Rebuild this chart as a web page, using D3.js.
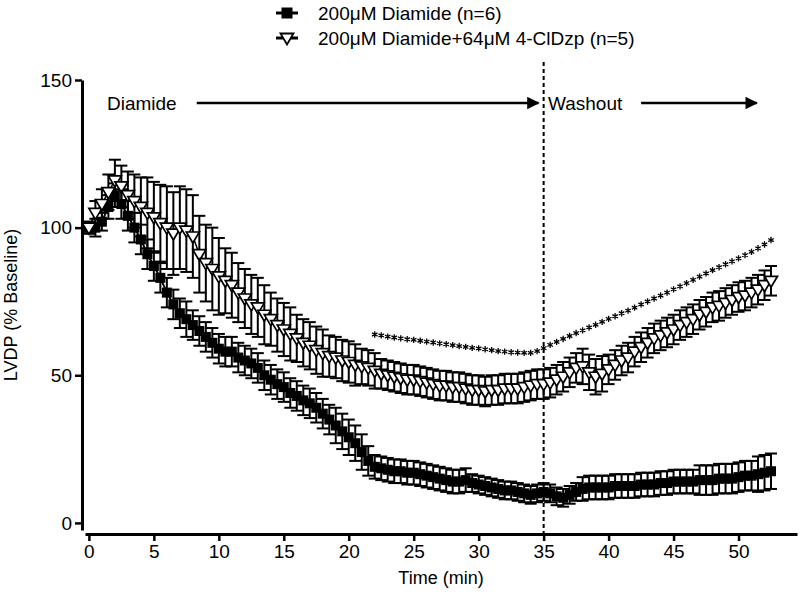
<!DOCTYPE html>
<html>
<head>
<meta charset="utf-8">
<script src="https://cdn.jsdelivr.net/npm/d3@7"></script>
<style>
  html, body { margin: 0; padding: 0; background: #fff; }
  svg { display: block; }
  text { font-family: "Liberation Sans", Arial, sans-serif; fill: #000; }
</style>
</head>
<body>
<svg id="chart" width="800" height="595"></svg>
<script>
// ---------------- data ----------------
const timeStart = 0, timeStep = 0.5;   // sampling every 0.5 min, 0 .. 52.5
const diamideMean = [
  100,100,102,107,111,108,104,100,96,91,
  87,83,78,74,71,69,67,65,63,61,
  59,58,58,56,55,54,52.5,50,48.5,47,
  46,44,43,41.5,40.5,39,37,35,33,31,
  29,27,24,21,19,18.5,18,17.5,17.5,17,
  17,16.5,16,15.5,15,14.5,14,14,14.5,13.5,
  13,12.5,12,11.5,11,11,10.5,10,9.5,10,
  10.5,10,9,8.5,9.5,10.5,11.5,12,12,12,
  12,12.5,12.5,12.5,12.5,13,13,13,13.5,13.5,
  14,14,14,14,14.5,14.5,14.5,15,15,15,
  15.5,16,16,16.5,17,17.5
];
const diamideSem = [
  2,3,3,4,4,5,5,5,5,5,
  5,5,5,5,5,6,5,5,5,5,
  5,5,5,5,5,5,5,5,5,5,
  5,5,5,5,5,5,5,5,6,6,
  6,6,6,5,4,4,4,4,4,4,
  4,4,4,4,4,4,4,4,4,3,
  3,3,3,3,3,3,3,3,3,3,
  3,3,3,3,3,3,4,4,4,4,
  4,4,4,4,4,4,4,4,4,4,
  4,4,4,4,5,5,5,5,5,5,
  5,5,5,6,6,6
];
const clDzpMean = [
  100,105,108,112,116,114,111,109,107,105,
  103.5,101.5,100,98,100,99,97,91,88,86,
  83.5,82,80.5,78,76,74,73,70.5,69,67,
  65.5,64,62.5,61,60,58.5,57.5,56.5,56,55,
  54.5,53.5,53,52.5,51.5,50.5,50,49.5,49,48.5,
  48.5,48,47.5,47,46.5,46.5,46,46,45.5,45,
  45,44.5,45,45,45.5,45.5,45.5,46,46.5,47,
  47,47.5,48.5,49.5,51,52.5,53,51,49.5,50.5,
  52,53.5,55,56,58,59.5,61,62.5,63.5,64.5,
  65.5,67,68,69,70.5,71.5,73,73.5,74.5,75.5,
  76.5,77,78,79,80.5,82
];
const clDzpSem = [
  2,4,5,6,7,7,8,9,10,12,
  12,13,14,14,14,14,14,13,13,14,
  13,11,11,10,10,10,10,10,9,9,
  9,9,8,8,8,8,8,7,7,7,
  7,7,6,6,6,5,5,5,5,5,
  5,5,5,5,5,5,5,5,5,5,
  5,5,5,5,5,5,5,5,5,5,
  5,5,5,5,5,5,6,6,6,6,
  5,5,5,5,5,5,5,5,5,5,
  5,5,5,5,5,5,5,5,5,5,
  5,5,5,5,5,5
];
const starStart = 22;   // significance markers every 0.5 min from 22 to 52.5
const starLevel = [
  63.8,63.5,63.1,62.8,62.5,62.2,62,61.7,61.4,61.1,
  60.8,60.5,60.2,59.9,59.6,59.3,59.1,58.8,58.5,58.2,
  58,57.8,57.7,57.6,57.6,58.2,59.2,60.3,61.3,62.3,
  63.3,64.3,65.2,66.2,67.1,68.1,69.1,70,71,71.9,
  72.9,74,75,76,77,78,79.1,80.1,81.2,82.3,
  83.4,84.5,85.6,86.6,87.6,88.6,89.6,90.7,91.8,93,
  94.3,95.8
];
const xTicks = [0,5,10,15,20,25,30,35,40,45,50];
const yTicks = [0,50,100,150];
const washoutTime = 35;
const legendLabels = ["200\u03bcM Diamide (n=6)", "200\u03bcM Diamide+64\u03bcM 4-ClDzp (n=5)"];
const phaseLabels = ["Diamide", "Washout"];
const phaseArrows = [[8.3, 34.6], [42.5, 51.4]];
const axisTitles = {x: "Time (min)", y: "LVDP (% Baseline)"};

// ---------------- build ----------------
const s1 = diamideMean.map((v,i)=>({t: timeStart + i*timeStep, v, e: diamideSem[i]}));
const s2 = clDzpMean.map((v,i)=>({t: timeStart + i*timeStep, v, e: clDzpSem[i]}));
const stars = starLevel.map((v,i)=>({t: starStart + i*0.5, v}));

const svg = d3.select("#chart");
const x = d3.scaleLinear().domain([-0.3, 54.5]).range([85, 797]);
const y = d3.scaleLinear().domain([-2.4, 150]).range([530, 80]);
const xAxisY = 534;

// y axis
const yAx = svg.append("g").attr("transform", "translate(82,0)")
  .call(d3.axisLeft(y).tickValues(yTicks).tickSize(7).tickSizeOuter(0).tickPadding(3));
yAx.select(".domain").attr("stroke-width", 3);
yAx.selectAll(".tick line").attr("stroke-width", 2.5);
yAx.selectAll(".tick text").style("font-size", "19px").style("font-family", "'Liberation Sans', Arial, sans-serif");

// x axis
const xAx = svg.append("g").attr("transform", `translate(0,${xAxisY})`)
  .call(d3.axisBottom(x).tickValues(xTicks).tickSize(7).tickSizeOuter(0).tickPadding(4));
xAx.select(".domain").attr("stroke-width", 3);
xAx.selectAll(".tick line").attr("stroke-width", 2.5);
xAx.selectAll(".tick text").style("font-size", "19px").style("font-family", "'Liberation Sans', Arial, sans-serif");

// axis titles
svg.append("text").attr("x", 441).attr("y", 584).attr("text-anchor", "middle")
  .style("font-size", "18px").text(axisTitles.x);
svg.append("text").attr("transform", "translate(17,305) rotate(-90)").attr("text-anchor", "middle")
  .style("font-size", "18px").text(axisTitles.y);

// washout dashed line
svg.append("line").attr("x1", x(washoutTime)).attr("x2", x(washoutTime))
  .attr("y1", 62).attr("y2", xAxisY - 1)
  .attr("stroke", "#000").attr("stroke-width", 2).attr("stroke-dasharray", "4,3");

// arrows
const defs = svg.append("defs");
defs.append("marker").attr("id", "arrow").attr("viewBox", "0 0 10 10")
  .attr("refX", 9).attr("refY", 5).attr("markerWidth", 5).attr("markerHeight", 5)
  .attr("markerUnits", "strokeWidth").attr("orient", "auto")
  .append("path").attr("d", "M0,0 L10,5 L0,10 Z").attr("fill", "#000");
const annY = 103;
svg.append("text").attr("x", 107).attr("y", annY + 7).style("font-size", "19px").text(phaseLabels[0]);
svg.append("text").attr("x", 548).attr("y", annY + 7).style("font-size", "19px").text(phaseLabels[1]);
phaseArrows.forEach(([a,b]) => {
  svg.append("line").attr("x1", x(a)).attr("x2", x(b)).attr("y1", annY).attr("y2", annY)
    .attr("stroke", "#000").attr("stroke-width", 2.5).attr("marker-end", "url(#arrow)");
});

// series drawer
function drawErr(data, capW) {
  const g = svg.append("g").attr("stroke", "#000").attr("stroke-width", 2).attr("fill", "none");
  data.forEach(d => {
    const cx = x(d.t), yt = y(d.v + d.e), yb = y(d.v - d.e);
    g.append("line").attr("x1", cx).attr("x2", cx).attr("y1", yt).attr("y2", yb);
    g.append("line").attr("x1", cx - capW/2).attr("x2", cx + capW/2).attr("y1", yt).attr("y2", yt);
    g.append("line").attr("x1", cx - capW/2).attr("x2", cx + capW/2).attr("y1", yb).attr("y2", yb);
  });
}
const line = d3.line().x(d => x(d.t)).y(d => y(d.v));
const sqSize = 10;
const triPath = "M-6.5,-4.5 L6.5,-4.5 L0,6.5 Z";

// series 1: filled squares
drawErr(s1, 12);
svg.append("path").datum(s1).attr("d", line).attr("fill", "none").attr("stroke", "#000").attr("stroke-width", 2);
svg.append("g").selectAll("rect").data(s1).join("rect")
  .attr("x", d => x(d.t) - sqSize/2).attr("y", d => y(d.v) - sqSize/2)
  .attr("width", sqSize).attr("height", sqSize).attr("fill", "#000");

// series 2: open down-triangles
drawErr(s2, 12);
svg.append("path").datum(s2).attr("d", line).attr("fill", "none").attr("stroke", "#000").attr("stroke-width", 1.5);
svg.append("g").selectAll("path").data(s2).join("path")
  .attr("d", triPath).attr("transform", d => `translate(${x(d.t)},${y(d.v)})`)
  .attr("fill", "#fff").attr("stroke", "#000").attr("stroke-width", 1.7);

// significance asterisks
const starSym = d3.symbol().type(d3.symbolAsterisk || d3.symbolCross).size(28);
svg.append("g").selectAll("path").data(stars).join("path")
  .attr("d", starSym).attr("transform", d => `translate(${x(d.t)},${y(d.v)})`)
  .attr("fill", "none").attr("stroke", "#000").attr("stroke-width", 1.3);

// legend
const lg = svg.append("g");
[[13, "sq"], [38, "tri"]].forEach(([ly, kind], i) => {
  lg.append("line").attr("x1", 276).attr("x2", 298).attr("y1", ly).attr("y2", ly)
    .attr("stroke", "#000").attr("stroke-width", 3);
  if (kind === "sq") {
    lg.append("rect").attr("x", 287 - 5.5).attr("y", ly - 5.5).attr("width", 11).attr("height", 11).attr("fill", "#000");
  } else {
    lg.append("path").attr("d", triPath).attr("transform", `translate(287,${ly})`)
      .attr("fill", "#fff").attr("stroke", "#000").attr("stroke-width", 1.8);
  }
  lg.append("text").attr("x", 318).attr("y", ly + 7).style("font-size", "19px").text(legendLabels[i]);
});
</script>
</body>
</html>
